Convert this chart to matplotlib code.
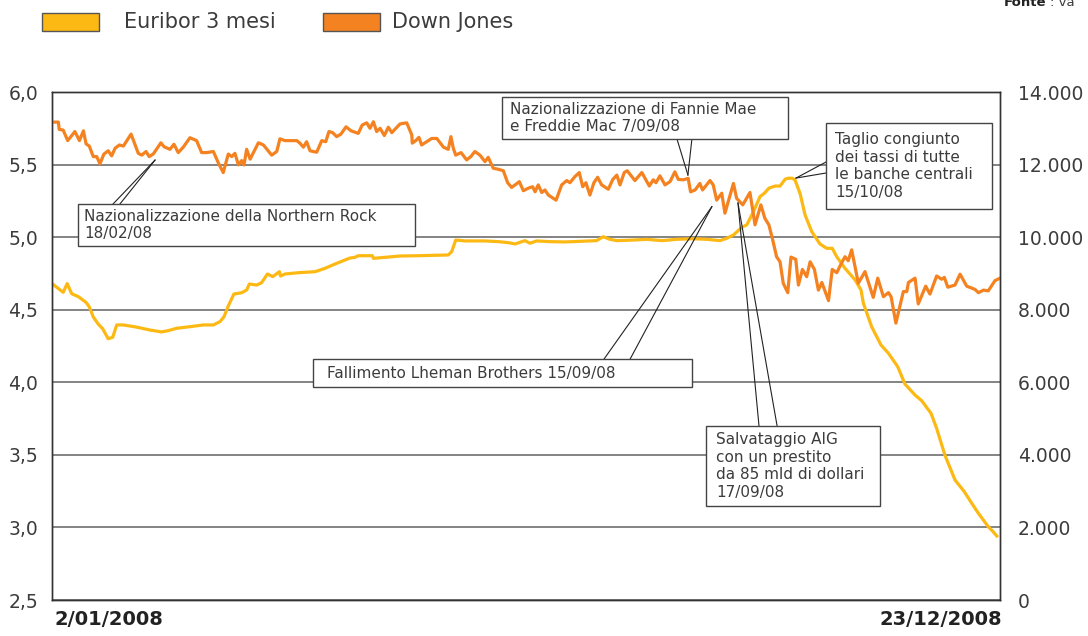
import matplotlib.pyplot as plt
from matplotlib.patches import Rectangle

# Dati (giorni dal 2/01/2008)
giorni_euribor = [0, 4.2, 5.7, 7.4, 9.9, 12.8, 14.0, 15.5, 17.4, 19.0, 21.1, 22.8, 24.3, 26.8,
                  31.8, 36.8, 41.2, 43.7, 46.8, 51.8, 56.8, 60.6, 63.1, 64.6, 66.2, 68.3, 71.2,
                  73.1, 74.1, 76.9, 78.7, 80.9, 82.9, 85.4, 85.8, 87.5, 92.5, 98.8, 102.5, 106.3,
                  109.4, 111.9, 113.8, 115.0, 120.3, 120.7, 125.1, 130.7, 137.6, 143.8, 148.8,
                  150.1, 151.6, 155.1, 162.6, 167.6, 171.4, 173.9, 177.6, 179.5, 182.0, 187.0,
                  192.7, 198.3, 204.5, 207.0, 209.5, 212.1, 218.3, 223.3, 229.0, 234.6, 240.8,
                  245.9, 250.8, 253.4, 255.9, 257.7, 259.4, 260.9, 263.4, 265.9, 267.5, 269.2,
                  271.5, 273.4, 275.3, 276.5, 278.0, 279.0, 280.9, 282.8, 285.3, 288.4, 290.9,
                  293.0, 294.7, 297.8, 301.6, 303.8, 304.7, 307.8, 311.3, 314.1, 317.6, 320.3,
                  324.1, 326.6, 330.1, 332.2, 335.3, 339.1, 342.6, 345.4, 347.9, 351.6, 353.1,
                  354.8]
euribor = [4.68, 4.62, 4.68, 4.61, 4.59, 4.55, 4.52, 4.45, 4.40, 4.37, 4.30, 4.31, 4.395, 4.395,
           4.38, 4.36, 4.347, 4.356, 4.372, 4.383, 4.395, 4.395, 4.418, 4.452, 4.526, 4.608, 4.617,
           4.636, 4.677, 4.670, 4.686, 4.746, 4.728, 4.762, 4.732, 4.746, 4.755, 4.762, 4.785, 4.815,
           4.838, 4.856, 4.861, 4.872, 4.872, 4.854, 4.861, 4.870, 4.872, 4.875, 4.877,
           4.900, 4.980, 4.974, 4.974, 4.969, 4.962, 4.953, 4.976, 4.958, 4.974, 4.969,
           4.967, 4.971, 4.976, 5.003, 4.985, 4.976, 4.980, 4.985, 4.976, 4.985, 4.989,
           4.985, 4.976, 4.992, 5.015, 5.045, 5.072, 5.084, 5.175, 5.280, 5.302, 5.337,
           5.352, 5.352, 5.399, 5.406, 5.406, 5.394, 5.302, 5.153, 5.038, 4.953, 4.923,
           4.923, 4.865, 4.785, 4.705, 4.636, 4.544, 4.383, 4.257, 4.200, 4.107, 3.988,
           3.912, 3.873, 3.786, 3.683, 3.499, 3.327, 3.246, 3.166, 3.097, 3.005, 2.977,
           2.941]

giorni_dow = [0, 2.4, 2.7, 4.2, 5.9, 8.6, 10.3, 11.8, 12.8, 14.0, 15.5, 16.8, 18.0, 19.5, 21.1,
              22.4, 23.7, 25.3, 26.8, 29.7, 32.4, 33.7, 35.3, 36.5, 38.0, 40.9, 42.1, 44.3, 45.8,
              47.4, 49.3, 51.8, 54.3, 56.2, 58.1, 60.6, 62.5, 64.3, 66.2, 67.5, 68.7, 70.0, 71.2,
              72.1, 73.1, 74.4, 77.5, 79.4, 82.5, 84.4, 85.6, 87.5, 91.9, 93.1, 94.4, 95.6, 96.9,
              99.4, 101.3, 102.8, 104.0, 105.4, 106.9, 108.5, 110.4, 112.3, 115.0, 116.5, 118.2,
              119.4, 120.7, 121.9, 123.2, 124.8, 126.3, 127.6, 130.7, 133.2, 135.1, 135.3, 136.6,
              137.8, 138.8, 140.7, 142.6, 144.5, 147.0, 148.8, 149.8, 150.7, 151.6, 153.6, 155.7,
              157.3, 158.8, 160.7, 162.6, 163.8, 165.7, 167.6, 169.5, 171.1, 172.6, 173.9, 175.5,
              177.0, 178.9, 180.5, 181.4, 182.6, 183.9, 185.1, 186.4, 189.3, 191.4, 193.3, 194.5,
              196.4, 198.0, 199.3, 200.5, 202.0, 203.5, 204.9, 206.4, 208.9, 210.6, 212.1, 213.3,
              214.9, 216.0, 218.9, 221.5, 222.7, 224.3, 225.8, 226.8, 228.3, 230.2, 232.1, 233.9,
              235.2, 237.1, 238.9, 239.8, 241.5, 243.3, 244.3, 247.1, 248.3, 249.6, 251.5, 252.7,
              255.9, 257.1, 259.4, 262.1, 264.0, 266.2, 267.7, 269.2, 270.5, 272.1, 273.4, 274.6,
              276.3, 277.5, 279.3, 280.3, 281.8, 283.4, 284.7, 286.3, 287.8, 289.1, 291.6, 293.0,
              294.7, 296.3, 297.8, 299.0, 300.3, 302.8, 305.3, 308.4, 310.1, 312.2, 314.1, 315.1,
              316.9, 319.7, 321.0, 321.6, 324.1, 325.3, 328.1, 329.7, 332.2, 334.1, 335.1, 336.4,
              339.1, 341.0, 343.5, 346.6, 347.9, 349.8, 351.6, 354.1, 356.0]
dow_jones = [13170, 13170, 12970, 12950, 12660, 12910, 12660, 12930, 12570, 12510, 12220, 12220,
             12020, 12290, 12380, 12240, 12450, 12540, 12510, 12840, 12310, 12260, 12360, 12220,
             12290, 12600, 12490, 12420, 12560, 12330, 12480, 12740, 12660, 12330, 12330, 12360,
             12040, 11780, 12290, 12220, 12310, 11990, 12110, 11990, 12420, 12150, 12600, 12540,
             12260, 12360, 12710, 12660, 12660, 12590, 12480, 12630, 12380, 12340, 12660, 12630,
             12910, 12880, 12770, 12840, 13040, 12930, 12860, 13090, 13150, 13000, 13180, 12910,
             13000, 12800, 13030, 12880, 13120, 13150, 12820, 12590, 12660, 12750, 12540, 12630,
             12720, 12720, 12480, 12420, 12770, 12450, 12260, 12330, 12130, 12220, 12360, 12260,
             12080, 12200, 11900, 11870, 11830, 11500, 11370, 11440, 11530, 11280, 11350, 11390,
             11250, 11440, 11230, 11300, 11160, 11020, 11440, 11560, 11500, 11670, 11780, 11390,
             11500, 11160, 11500, 11650, 11440, 11320, 11590, 11710, 11440, 11780, 11830, 11560,
             11780, 11620, 11410, 11580, 11500, 11690, 11440, 11530, 11800, 11590, 11580, 11620,
             11250, 11300, 11480, 11300, 11560, 11440, 11020, 11210, 10660, 11480, 11070, 10890,
             11230, 10340, 10890, 10520, 10340, 9970, 9460, 9320, 8730, 8470, 9450, 9390, 8680,
             9110, 8910, 9320, 9110, 8540, 8750, 8250, 9110, 9020, 9260, 9460, 9350, 9650, 8730,
             9050, 8340, 8870, 8360, 8470, 8360, 7630, 8500, 8500, 8750, 8870, 8160, 8650, 8430,
             8930, 8840, 8890, 8620, 8680, 8980, 8650, 8560, 8470, 8540, 8520, 8800, 8870]

tick_sx = [2.5, 3.0, 3.5, 4.0, 4.5, 5.0, 5.5, 6.0]
tick_dx = [0, 2000, 4000, 6000, 8000, 10000, 12000, 14000]

GIALLO = '#FDB913'
ARANCIO = '#F58220'
GRIGIO = '#3c3c3c'

fig = plt.figure(figsize=(10.88, 6.36), dpi=100)
ax = fig.add_axes([52 / 1088, 36 / 636, 948 / 1088, 508 / 636])
ax2 = ax.twinx()

ax.plot(giorni_euribor, euribor, color=GIALLO, lw=2.3, solid_joinstyle='round')
ax2.plot(giorni_dow, dow_jones, color=ARANCIO, lw=2.3, solid_joinstyle='round')

# Assi e griglia
ax.set_yticks(tick_sx)
ax.set_yticklabels([f'{v:.1f}'.replace('.', ',') for v in tick_sx])
ax2.set_yticks(tick_dx)
ax2.set_yticklabels([f'{v:,}'.replace(',', '.') for v in tick_dx])
ax.set_xticks([])
ax.tick_params(axis='y', length=0, pad=10, labelsize=13.5, labelcolor=GRIGIO)
ax2.tick_params(axis='y', length=0, pad=13, labelsize=13.5, labelcolor=GRIGIO)
ax.yaxis.grid(True, color='#6e6e6e', lw=1.2)
ax.set_axisbelow(True)
for a in (ax, ax2):
    for s in a.spines.values():
        s.set_color('#333333')
        s.set_linewidth(1.0)

ax.text(0.003, -0.039, '2/01/2008', transform=ax.transAxes, ha='left', va='center',
        fontsize=14, fontweight='bold', color='#222222')
ax.text(1.002, -0.039, '23/12/2008', transform=ax.transAxes, ha='right', va='center',
        fontsize=14, fontweight='bold', color='#222222')


# Note con riquadro e due linee che puntano alla curva
def nota(testo, box, testo_x, punta, basi):
    l, b, r, t = box
    ax2.add_patch(Rectangle((l, b), r - l, t - b, transform=ax.transData,
                            facecolor='white', edgecolor='#444444', lw=1.0, zorder=5))
    ax2.text(testo_x, (b + t) / 2, testo, transform=ax.transData, ha='left', va='center',
             fontsize=11, color=GRIGIO, linespacing=1.22, zorder=6)
    for bx, by in basi:
        ax2.plot([bx, punta[0]], [by, punta[1]], color='#222222', lw=0.8,
                 transform=ax.transData, zorder=4)


nota('Nazionalizzazione della Northern Rock\n18/02/08', (9.8, 4.939, 136.3, 5.228), 12.0,
     (38.7, 5.531), [(22.9, 5.228), (25.5, 5.228)])
nota('Nazionalizzazione di Fannie Mae\ne Freddie Mac 7/09/08', (169.0, 5.676, 276.4, 5.966), 172.0,
     (238.8, 5.428), [(234.7, 5.676), (240.3, 5.676)])
nota('Taglio congiunto\ndei tassi di tutte\nle banche centrali\n15/10/08',
     (290.7, 5.194, 353.0, 5.786), 294.1, (279.4, 5.407), [(290.7, 5.518), (290.7, 5.442)])
nota('Fallimento Lheman Brothers 15/09/08', (98.0, 3.967, 240.3, 4.160), 103.3,
     (247.8, 5.21), [(207.3, 4.160), (217.1, 4.160)])
nota('Salvataggio AIG\ncon un prestito\nda 85 mld di dollari\n17/09/08',
     (245.6, 3.148, 310.9, 3.699), 249.3, (257.6, 5.235), [(265.5, 3.699), (272.3, 3.699)])

ax.set_xlim(0, 356)
ax.set_ylim(2.5, 6.0)
ax2.set_ylim(0, 14000)

# Legenda in alto
for x0, colore, etichetta, xt in [(42, GIALLO, 'Euribor 3 mesi', 124), (323, ARANCIO, 'Down Jones', 392)]:
    fig.patches.append(Rectangle((x0 / 1088, 1 - 31 / 636), 57 / 1088, 18 / 636,
                                 transform=fig.transFigure, facecolor=colore,
                                 edgecolor='#555555', lw=1.0))
    fig.text(xt / 1088, 1 - 22 / 636, etichetta, ha='left', va='center', fontsize=15, color=GRIGIO)

# Fonte (tagliata in alto a destra come nell'originale)
fig.text(1004 / 1088, 1 - 3 / 636, 'Fonte', ha='left', va='center', fontsize=9.5,
         fontweight='bold', color='#222222')
fig.text(1050 / 1088, 1 - 3 / 636, ': va', ha='left', va='center', fontsize=9.5, color=GRIGIO)

fig.savefig('out.png', dpi=100)
